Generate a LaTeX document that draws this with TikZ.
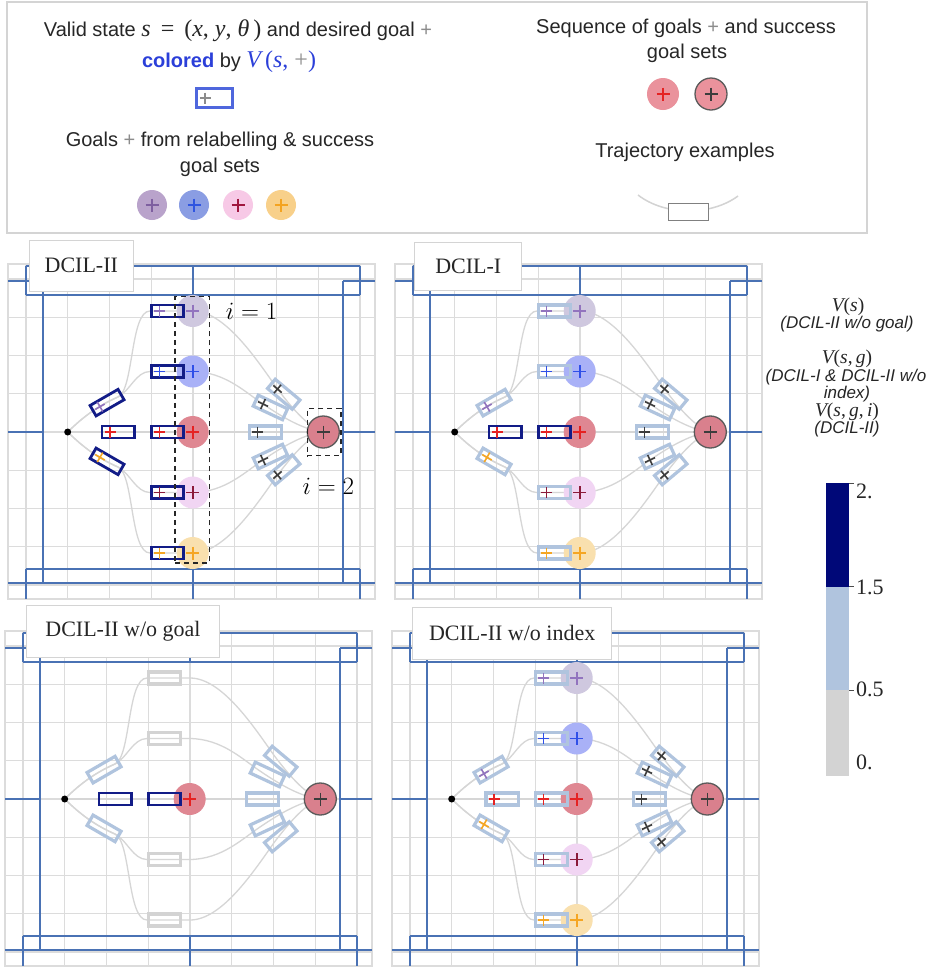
\documentclass[tikz,border=0pt]{standalone}
\usepackage{fontspec}
\setmainfont{Liberation Sans}
\newfontfamily\serf{Liberation Serif}
\definecolor{gridc}{HTML}{DCDCDC}
\definecolor{wallc}{HTML}{4A72B4}
\definecolor{trajc}{HTML}{D6D6D6}
\definecolor{boxc}{HTML}{D4D4D4}
\definecolor{navyc}{HTML}{121C87}
\definecolor{cbnavy}{HTML}{000878}
\definecolor{lsb}{HTML}{B0C4DE}
\definecolor{lgr}{HTML}{D3D3D3}
\definecolor{pgray}{HTML}{8C8C8C}
\definecolor{tblue}{HTML}{2B3FD9}
\definecolor{lbblue}{HTML}{4F67DD}
\definecolor{gedge}{HTML}{5A5A5A}
\definecolor{gP}{HTML}{CFC8DF}
\definecolor{gB}{HTML}{A9B1F7}
\definecolor{gR}{HTML}{DF8792}
\definecolor{gK}{HTML}{F1D5F3}
\definecolor{gO}{HTML}{F9E0AE}
\definecolor{gF}{HTML}{D9808D}
\definecolor{mP}{HTML}{9274BE}
\definecolor{mB}{HTML}{2F4FE8}
\definecolor{mR}{HTML}{E52222}
\definecolor{mK}{HTML}{8B1A3A}
\definecolor{mO}{HTML}{F5A623}
\definecolor{mD}{HTML}{3C3C3C}
\definecolor{lP}{HTML}{B9A3CB}
\definecolor{lB}{HTML}{8A9DE3}
\definecolor{lK}{HTML}{F7C9E6}
\definecolor{lO}{HTML}{F8D08A}
\definecolor{lR}{HTML}{EA929C}
\definecolor{lmP}{HTML}{7E5FA0}
\definecolor{lmB}{HTML}{2F55E0}
\definecolor{lmK}{HTML}{A0173F}
\definecolor{lmO}{HTML}{F4A320}

\tikzset{
 gridl/.style={draw=gridc,line width=1.4pt},
 wall/.style={draw=wallc,line width=2pt},
 traj/.style={draw=trajc,line width=1.3pt},
 nv/.style={draw=navyc,line width=2.8pt},
 lb/.style={draw=lsb,line width=3.2pt},
 lg/.style={draw=lgr,line width=3.2pt},
 goal/.style={circle,inner sep=0pt,minimum size=32pt},
 lgoal/.style={circle,inner sep=0pt,minimum size=30pt},
 sdot/.style={circle,fill=black,inner sep=0pt,minimum size=7pt},
 lbox/.style={draw=boxc,fill=white,line width=1pt,inner sep=0pt,font=\serf\fontsize{22}{24}\selectfont,text=black!85},
 lt/.style={font=\fontsize{20}{24}\selectfont,text=black!85,inner sep=0pt},
 captxt/.style={font=\fontsize{17}{20}\selectfont\itshape,text=black!85,inner sep=0pt,text height=11pt,text depth=3pt},
 vt/.style={font=\serf\fontsize{19.5}{22}\selectfont,text=black!85,inner sep=0pt,text height=13pt,text depth=4pt},
 ticktxt/.style={font=\serf\fontsize{22}{24}\selectfont,text=black!85,inner sep=0pt,anchor=west},
 dsh/.style={draw=black!85,line width=1.2pt,dash pattern=on 5pt off 4pt,inner sep=0pt},
}

\newcommand{\mk}[4]{\begin{scope}[shift={(#1)},rotate=#2]\draw[draw=#3,line width=1.6pt] (-#4,0)--(#4,0) (0,-#4)--(0,#4);\end{scope}}
\newcommand{\ag}[4]{\begin{scope}[shift={(#1)},rotate=#2]\draw[#3] (-8,-6) rectangle (24.3,6);\draw[draw=#4,line width=1.6pt] (-5.5,0)--(5.5,0) (0,-5.5)--(0,5.5);\end{scope}}
\newcommand{\gl}[4]{\node[goal,fill=#3] (#1) at (#2) {};\mk{#2}{0}{#4}{6.5}}

\newcommand{\panelbase}[1]{%
 \draw[gridl] (8,264) rectangle (375,599);
 \foreach \k in {0,...,8}{\draw[gridl] ({26+41.75*\k},264) -- ({26+41.75*\k},599); \draw[gridl] (8,{279+38.25*\k}) -- (375,{279+38.25*\k});}
 \draw[wall] (26,266) -- (360,266) (26,295) -- (360,295) (26,266) -- (26,295) (193,266) -- (193,295) (360,266) -- (360,295);
 \draw[wall] (8,281) -- (42.7,281) (343,281) -- (375,281);
 \draw[wall] (42.7,281) -- (42.7,583) (343,281) -- (343,583);
 \draw[wall] (8,432) -- (42.7,432) (343,432) -- (375,432);
 \draw[wall] (26,569) -- (360,569) (8,583) -- (375,583) (26,569) -- (26,599) (193,569) -- (193,599) (360,569) -- (360,599);
 \coordinate (#1s) at (67.7,432);
 \coordinate (#1f) at (323.3,432);
 \draw[traj] (#1s) .. controls (80,420) and (95,407) .. (118,397) .. controls (134,390) and (130,311) .. (150,311) -- (193,311) .. controls (225,311) and (257,360) .. (277.5,389) .. controls (292,408) and (308,427) .. (#1f);
 \draw[traj] (#1s) .. controls (80,420) and (95,407) .. (118,397) .. controls (130,391) and (136,371.5) .. (150,371.5) -- (193,371.5) .. controls (225,372) and (245,392) .. (263,404) .. controls (285,419) and (305,430) .. (#1f);
 \draw[traj] (#1s) -- (#1f);
 \draw[traj] (#1s) .. controls (80,444) and (95,457) .. (118,467) .. controls (130,473) and (136,492.5) .. (150,492.5) -- (193,492.5) .. controls (225,492) and (245,472) .. (263,460) .. controls (285,445) and (305,434) .. (#1f);
 \draw[traj] (#1s) .. controls (80,444) and (95,457) .. (118,467) .. controls (134,474) and (130,553) .. (150,553) -- (193,553) .. controls (225,553) and (257,504) .. (277.5,475) .. controls (292,456) and (308,437) .. (#1f);
 \node[sdot] (#1d) at (#1s) {};
}
\newcommand{\finalgoal}[1]{\node[goal,fill=gF,draw=gedge,line width=1.3pt] (#1F) at (#1f) {};\mk{323.3,432}{0}{mD}{6.5}}
\newcommand{\allgoals}[1]{%
 \gl{#1G1}{192.7,311}{gP}{mP}
 \gl{#1G2}{192.7,371.5}{gB}{mB}
 \gl{#1G3}{192.7,432}{gR}{mR}
 \gl{#1G4}{192.7,492.5}{gK}{mK}
 \gl{#1G5}{192.7,553}{gO}{mO}
}
\newcommand{\fan}[1]{%
 \ag{277.5,389}{-40}{lb}{#1}
 \ag{263,404}{-25}{lb}{#1}
 \ag{257.5,432}{0}{lb}{#1}
 \ag{263,460}{25}{lb}{#1}
 \ag{277.5,475}{40}{lb}{#1}
}

\begin{document}
\begin{tikzpicture}[x=1pt,y=-1pt]
\useasboundingbox (0,0) rectangle (939,970);
\fill[white] (0,0) rectangle (939,970);

% ---------- legend ----------
\draw[draw=boxc,line width=1.2pt] (7,2) rectangle (867,233);
\node[lt] (l1) at (238,31) {Valid state {\serf\fontsize{24}{26}\selectfont\itshape s\upshape\ \,=\ \,(\itshape x\upshape,\ \itshape y\upshape,\ \itshape θ\upshape\,)} and desired goal \textcolor{pgray}{+}};
\node[lt] (l2) at (229,62) {\textcolor{tblue}{\bfseries colored} by {\serf\fontsize{24}{26}\selectfont\color{tblue}\itshape V\upshape\,(\itshape s\upshape, \textcolor{pgray}{+})}};
\node[draw=lbblue,line width=3pt,minimum width=36pt,minimum height=19pt,inner sep=0pt] (lrect) at (214.5,98) {};
\mk{205,98}{0}{pgray}{5.5}
\node[lt] (l3) at (220,141) {Goals \textcolor{pgray}{+} from relabelling \& success};
\node[lt] (l4) at (220,167) {goal sets};
\node[lgoal,fill=lP] (lc1) at (152,205) {}; \mk{152,205}{0}{lmP}{6.5}
\node[lgoal,fill=lB] (lc2) at (194,205) {}; \mk{194,205}{0}{lmB}{6.5}
\node[lgoal,fill=lK] (lc3) at (238,205) {}; \mk{238,205}{0}{lmK}{6.5}
\node[lgoal,fill=lO] (lc4) at (281,205) {}; \mk{281,205}{0}{lmO}{6.5}

\node[lt] (r1) at (686,28) {Sequence of goals \textcolor{pgray}{+} and success};
\node[lt] (r2) at (687,53) {goal sets};
\node[goal,fill=lR] (rc1) at (663,94) {}; \mk{663,94}{0}{mR}{6.5}
\node[goal,fill=lR,draw=gedge,line width=1.3pt] (rc2) at (711,94) {}; \mk{711,94}{0}{mD}{6.5}
\node[lt] (r3) at (685,152) {Trajectory examples};
\coordinate (ta) at (638,195);
\coordinate (tb) at (738,196);
\draw[draw=lgr,line width=1.5pt] (ta) .. controls (665,216) and (711,216) .. (tb);
\node[draw=gray,line width=1.3pt,fill=white,minimum width=40pt,minimum height=17pt,inner sep=0pt] (rtr) at (688.5,212) {};

% ---------- panel 1: DCIL-II ----------
\begin{scope}
\panelbase{a}
\allgoals{a}
\finalgoal{a}
\ag{100,406.7}{30}{nv}{mP}
\ag{110,432}{0}{nv}{mR}
\ag{100,457.3}{-30}{nv}{mO}
\ag{159.3,311}{0}{nv}{mP}
\ag{159.3,371.5}{0}{nv}{mB}
\ag{159.3,432}{0}{nv}{mR}
\ag{159.3,492.5}{0}{nv}{mK}
\ag{159.3,553}{0}{nv}{mO}
\fan{mD}
\end{scope}
\node[dsh,minimum width=34.3pt,minimum height=266.3pt] (dcol) at (192.15,429.85) {};
\node[dsh,minimum width=33.7pt,minimum height=47.4pt] (dfin) at (324.15,432) {};
\node[inner sep=0pt,font=\fontsize{26}{30}\selectfont] (i1) at (251.7,311) {$i=1$};
\node[inner sep=0pt,font=\fontsize{26}{30}\selectfont] (i2) at (328.3,486.7) {$i=2$};

% ---------- panel 2: DCIL-I ----------
\begin{scope}[shift={(387,0)}]
\panelbase{b}
\allgoals{b}
\finalgoal{b}
\ag{100,406.7}{30}{lb}{mP}
\ag{110,432}{0}{nv}{mR}
\ag{100,457.3}{-30}{lb}{mO}
\ag{159.3,311}{0}{lb}{mP}
\ag{159.3,371.5}{0}{lb}{mB}
\ag{159.3,432}{0}{nv}{mR}
\ag{159.3,492.5}{0}{lb}{mK}
\ag{159.3,553}{0}{lb}{mO}
\fan{mD}
\end{scope}

% ---------- panel 3: DCIL-II w/o goal ----------
\begin{scope}[shift={(-3,367)}]
\panelbase{c}
\gl{cG3}{192.7,432}{gR}{mR}
\finalgoal{c}
\ag{100,406.7}{30}{lb}{none}
\ag{110,432}{0}{nv}{none}
\ag{100,457.3}{-30}{lb}{none}
\ag{159.3,311}{0}{lg}{none}
\ag{159.3,371.5}{0}{lg}{none}
\ag{159.3,432}{0}{nv}{none}
\ag{159.3,492.5}{0}{lg}{none}
\ag{159.3,553}{0}{lg}{none}
\fan{none}
\end{scope}

% ---------- panel 4: DCIL-II w/o index ----------
\begin{scope}[shift={(384,367)}]
\panelbase{d}
\allgoals{d}
\finalgoal{d}
\ag{100,406.7}{30}{lb}{mP}
\ag{110,432}{0}{lb}{mR}
\ag{100,457.3}{-30}{lb}{mO}
\ag{159.3,311}{0}{lb}{mP}
\ag{159.3,371.5}{0}{lb}{mB}
\ag{159.3,432}{0}{lb}{mR}
\ag{159.3,492.5}{0}{lb}{mK}
\ag{159.3,553}{0}{lb}{mO}
\fan{mD}
\end{scope}

% ---------- panel labels ----------
\node[lbox,minimum width=104pt,minimum height=51pt] (lab1) at (81.3,265.5) {DCIL-II};
\node[lbox,minimum width=106.7pt,minimum height=48.4pt] (lab2) at (468.3,266.5) {DCIL-I};
\node[lbox,minimum width=192.6pt,minimum height=52.3pt] (lab3) at (123,631.2) {DCIL-II w/o goal};
\node[lbox,minimum width=199pt,minimum height=52pt] (lab4) at (512.2,633.3) {DCIL-II w/o index};

% ---------- colorbar and captions ----------
\node[vt] (v1) at (848,307) {\itshape V\upshape(\itshape s\upshape)};
\node[captxt] (c1) at (847,324.5) {(DCIL-II w/o goal)};
\node[vt] (v2) at (847,358.5) {\itshape V\upshape(\itshape s\upshape,\,\itshape g\upshape)};
\node[captxt] (c2) at (846,377) {(DCIL-I \& DCIL-II w/o};
\node[captxt] (c3) at (847,394) {index)};
\node[vt] (v3) at (847,412) {\itshape V\upshape(\itshape s\upshape,\,\itshape g\upshape,\,\itshape i\upshape)};
\node[captxt] (c4) at (847,429.5) {(DCIL-II)};

\fill[cbnavy] (825.7,483.3) rectangle (849.3,586.7);
\fill[lsb] (825.7,586.7) rectangle (849.3,690);
\fill[lgr] (825.7,690) rectangle (849.3,776);
\draw[draw=black!70,line width=0.8pt] (849.3,483.3) -- (853.5,483.3) (849.3,586.7) -- (853.5,586.7) (849.3,690) -- (853.5,690);
\node[ticktxt] (t2) at (856,491) {2.};
\node[ticktxt] (t15) at (856,587) {1.5};
\node[ticktxt] (t05) at (856,689) {0.5};
\node[ticktxt] (t0) at (856,762) {0.};
\end{tikzpicture}
\end{document}
